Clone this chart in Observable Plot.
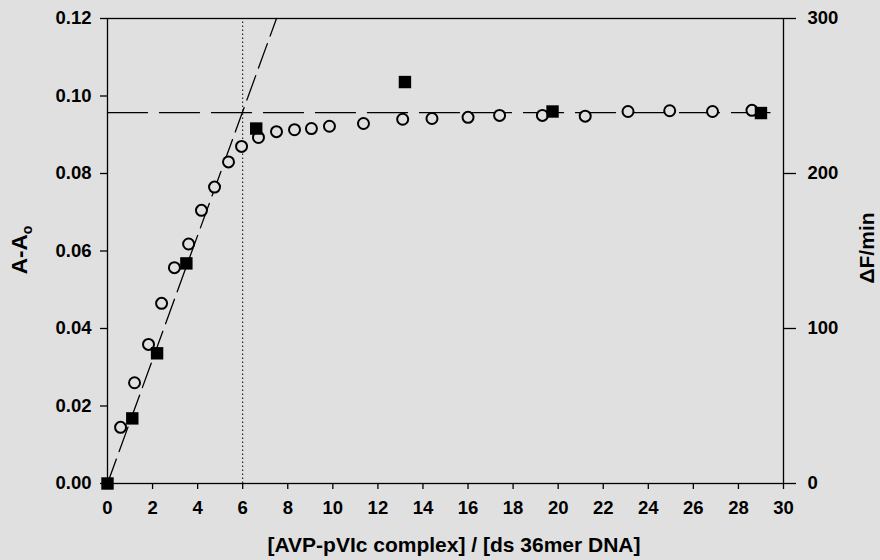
<!DOCTYPE html>
<html><head><meta charset="utf-8">
<script src="https://cdn.jsdelivr.net/npm/d3@7"></script>
<script src="https://cdn.jsdelivr.net/npm/@observablehq/plot@0.6"></script>
<style>html,body{margin:0;padding:0;background:#e0e0e0;}</style>
</head><body><div id="chart"></div>
<script>
// Open circles: absorbance change A-Ao (left axis)
const circleX = [0.58,1.2,1.82,2.4,2.97,3.6,4.17,4.75,5.37,5.95,6.7,7.5,8.3,9.05,9.85,11.36,13.1,14.4,16.0,17.4,19.3,21.2,23.1,24.95,26.85,28.6];
const circleY = [0.0145,0.026,0.0359,0.0465,0.0557,0.0618,0.0705,0.0765,0.083,0.087,0.0893,0.0908,0.0913,0.0916,0.0922,0.0929,0.094,0.0942,0.0945,0.095,0.095,0.0948,0.096,0.0962,0.096,0.0963];
// Filled squares: ΔF/min (right axis)
const squareX = [0,1.1,2.2,3.5,6.6,13.2,19.75,29.0];
const squareF = [0,42,84,142,229,259,240,239];
// Fit lines
const riseX = [0,7.5];
const riseY = [0,0.12];
const plateauX = [0,29.4];
const plateauY = [0.0957,0.0957];
const breakX = [6];
// Ticks
const xTicks = [0,2,4,6,8,10,12,14,16,18,20,22,24,26,28,30];
const yTicks = [0,0.02,0.04,0.06,0.08,0.10,0.12];
const rightTicks = [0,100,200,300];
const rightMax = 300, leftMax = 0.12;
const k = rightMax/leftMax;

const circles = circleX.map((x,i)=>({x, y:circleY[i]}));
const squares = squareX.map((x,i)=>({x, y:squareF[i]/k}));
const rise = riseX.map((x,i)=>({x, y:riseY[i]}));
const plateau = plateauX.map((x,i)=>({x, y:plateauY[i]}));

const plot = Plot.plot({
  width: 880, height: 560,
  marginLeft: 107, marginRight: 97, marginTop: 18, marginBottom: 77,
  style: {background:"#e0e0e0", fontFamily:"'Liberation Sans', Arial, sans-serif", fontSize:"18.5px", fontWeight:"bold", color:"black"},
  x: {domain:[0,30]},
  y: {domain:[0,leftMax]},
  marks: [
    Plot.frame({stroke:"black", strokeWidth:1.3}),
    Plot.axisX(xTicks, {tickSize:6, tickPadding:11, tickFormat:d=>String(d), label:null, strokeWidth:1.3}),
    Plot.axisY(yTicks, {anchor:"left", tickSize:7, tickPadding:9, tickFormat:d=>d.toFixed(2), label:null, strokeWidth:1.3}),
    Plot.axisY(rightTicks.map(d=>d/k), {anchor:"right", tickSize:12, tickFormat:()=>"", label:null, strokeWidth:1.3}),
    Plot.text(rightTicks, {y:d=>d/k, text:d=>String(d), frameAnchor:"right", textAnchor:"start", dx:24, fontSize:18.5, fontWeight:"bold", fill:"black"}),
    Plot.ruleX(breakX, {y1:0, y2:leftMax, stroke:"black", strokeWidth:1, strokeDasharray:"1.5,2.5"}),
    Plot.line(rise, {x:"x", y:"y", stroke:"black", strokeWidth:1.3, strokeDasharray:"26,8"}),
    Plot.line(plateau, {x:"x", y:"y", stroke:"black", strokeWidth:1.3, strokeDasharray:"40,12"}),
    Plot.dot(circles, {x:"x", y:"y", r:5.5, stroke:"black", strokeWidth:2, fill:"#e0e0e0"}),
    Plot.dot(squares, {x:"x", y:"y", r:7, symbol:"square", fill:"black", stroke:"none"})
  ]
});
document.getElementById("chart").appendChild(plot);

const svg = d3.select(plot);
const ff = "'Liberation Sans', Arial, sans-serif";
const yl = svg.append("text")
  .attr("transform","translate(27,250) rotate(-90)")
  .attr("text-anchor","middle").attr("font-family",ff).attr("font-weight","bold").attr("font-size",22.5).attr("fill","black");
yl.append("tspan").text("A-A");
yl.append("tspan").attr("dy",5).attr("font-size",14).text("o");
svg.append("text")
  .attr("transform","translate(874,248) rotate(-90)")
  .attr("text-anchor","middle").attr("font-family",ff).attr("font-weight","bold").attr("font-size",21).attr("fill","black")
  .text("ΔF/min");
svg.append("text")
  .attr("x",454).attr("y",552)
  .attr("text-anchor","middle").attr("font-family",ff).attr("font-weight","bold").attr("font-size",21).attr("fill","black")
  .text("[AVP-pVIc complex] / [ds 36mer DNA]");
</script>
</body></html>
